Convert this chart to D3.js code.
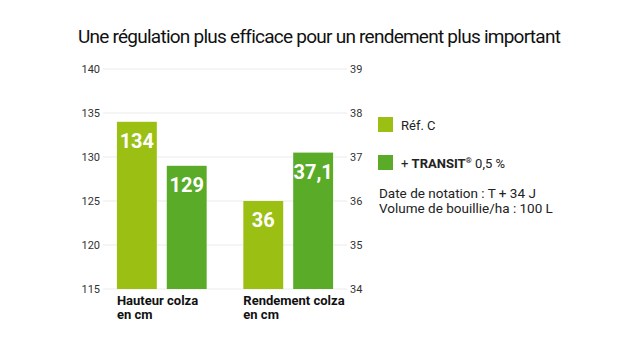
<!DOCTYPE html>
<html>
<head>
<meta charset="utf-8">
<script src="https://cdn.jsdelivr.net/npm/d3@7"></script>
<style>
  body { margin: 0; background: #fff; }
  text { font-family: Roboto, "Noto Sans", sans-serif; }
</style>
</head>
<body>
<svg width="637" height="337"></svg>
<script>
// Data
var groups = ['Hauteur colza|en cm', 'Rendement colza|en cm'];
var series = ['Réf. C', '+ TRANSIT® 0,5 %'];
var hauteur = [134, 129];      // left axis
var rendement = [36, 37.1];    // right axis
var leftTicks = [115, 120, 125, 130, 135, 140];
var rightTicks = [34, 35, 36, 37, 38, 39];
var notes = ['Date de notation : T + 34 J', 'Volume de bouillie/ha : 100 L'];
var colors = ['#9bbf12', '#59ab28'];

var svg = d3.select('svg');
var margin = {top: 69, left: 103, right: 290, bottom: 48};
var width = 637 - margin.left - margin.right;
var height = 337 - margin.top - margin.bottom;

var chart = svg.append('g')
  .attr('transform', 'translate(' + margin.left + ',' + margin.top + ')');

// Scales: two y axes, one per group
var yL = d3.scaleLinear().domain([115, 140]).range([height, 0]);
var yR = d3.scaleLinear().domain([34, 39]).range([height, 0]);
var x0 = d3.scaleBand().domain(groups).range([0, width]).paddingInner(0.29).paddingOuter(0.11);
var x1 = d3.scaleBand().domain(series).range([0, x0.bandwidth()]).paddingInner(0.2);

// Title
svg.append('text')
  .attr('x', 319).attr('y', 43)
  .attr('text-anchor', 'middle')
  .attr('font-size', 19)
  .attr('fill', '#111')
  .attr('letter-spacing', -0.75)
  .text('Une régulation plus efficace pour un rendement plus important');

// Gridlines
chart.append('g').selectAll('line')
  .data(leftTicks).enter()
  .append('line')
  .attr('x1', 0).attr('x2', width)
  .attr('y1', d => yL(d)).attr('y2', d => yL(d))
  .attr('stroke', '#ebebeb');

// Axes
var leftAxis = chart.append('g')
  .call(d3.axisLeft(yL).tickValues(leftTicks).tickSize(0).tickPadding(3));
var rightAxis = chart.append('g')
  .attr('transform', 'translate(' + width + ',0)')
  .call(d3.axisRight(yR).tickValues(rightTicks).tickFormat(d3.format('d')).tickSize(0).tickPadding(3));
[leftAxis, rightAxis].forEach(a => {
  a.select('.domain').remove();
  a.selectAll('text').attr('font-size', 11).attr('fill', '#333')
    .style('font-family', 'Roboto, sans-serif');
});

// Bars
var barData = [];
groups.forEach((g, gi) => {
  var vals = gi === 0 ? hauteur : rendement;
  var sc = gi === 0 ? yL : yR;
  series.forEach((s, si) => {
    barData.push({group: g, series: s, value: vals[si], y: sc, color: colors[si]});
  });
});

var bars = chart.selectAll('.bar')
  .data(barData).enter()
  .append('g');

bars.append('rect')
  .attr('x', d => x0(d.group) + x1(d.series))
  .attr('width', x1.bandwidth())
  .attr('y', d => d.y(d.value))
  .attr('height', d => height - d.y(d.value))
  .attr('fill', d => d.color);

bars.append('text')
  .attr('x', d => x0(d.group) + x1(d.series) + x1.bandwidth() / 2)
  .attr('y', d => d.y(d.value) + 26)
  .attr('text-anchor', 'middle')
  .attr('font-size', 20)
  .attr('font-weight', 'bold')
  .attr('fill', '#fff')
  .text(d => String(d.value).replace('.', ','));

// Category labels, two lines each
groups.forEach(g => {
  g.split('|').forEach((line, i) => {
    chart.append('text')
      .attr('x', x0(g))
      .attr('y', height + 16 + i * 14)
      .attr('font-size', 13)
      .attr('font-weight', 'bold')
      .attr('fill', '#111')
      .text(line);
  });
});

// Legend
var legend = svg.append('g').attr('transform', 'translate(378,117)');
var items = legend.selectAll('g')
  .data(series).enter()
  .append('g')
  .attr('transform', (d, i) => 'translate(0,' + i * 38 + ')');
items.append('rect')
  .attr('width', 15).attr('height', 15)
  .attr('fill', (d, i) => colors[i]);
items.append('text')
  .attr('x', 23).attr('y', 13)
  .attr('font-size', 13)
  .attr('fill', '#222')
  .each(function(d, i) {
    var t = d3.select(this);
    if (i === 0) { t.text(d); return; }
    t.append('tspan').text('+ ');
    t.append('tspan').attr('font-weight', 'bold').text('TRANSIT');
    t.append('tspan').attr('font-size', 8).attr('dy', -5).attr('font-weight', 'bold').text('®');
    t.append('tspan').attr('dy', 5).text(' 0,5 %');
  });

// Notes
svg.append('g').selectAll('text')
  .data(notes).enter()
  .append('text')
  .attr('x', 379)
  .attr('y', (d, i) => 198 + i * 15)
  .attr('font-size', 13.5)
  .attr('fill', '#222')
  .text(d => d);
</script>
</body>
</html>
